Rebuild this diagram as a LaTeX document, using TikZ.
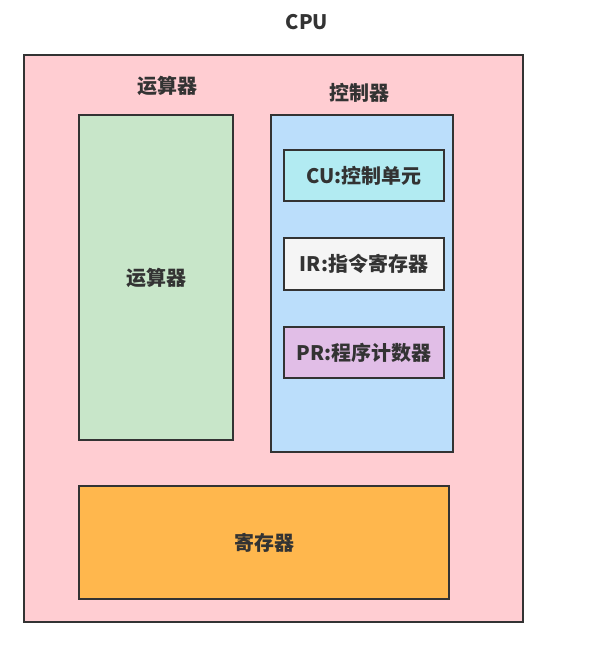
\documentclass[tikz,border=0pt]{standalone}
\usepackage{fontspec}
\setmainfont{Noto Sans CJK SC}
\usepackage{tikz}
\usetikzlibrary{positioning}
\definecolor{ink}{HTML}{333333}
\definecolor{cpupink}{HTML}{FFCDD2}
\definecolor{alugreen}{HTML}{C8E6C9}
\definecolor{ctrlblue}{HTML}{BBDEFB}
\definecolor{cucyan}{HTML}{B2EBF2}
\definecolor{irgrey}{HTML}{F5F5F5}
\definecolor{prpurple}{HTML}{E1BEE7}
\definecolor{regorange}{HTML}{FFB74D}
\tikzset{
  box/.style={draw=ink, line width=2pt, rectangle, inner sep=0pt,
    font=\fontsize{20}{22}\selectfont\bfseries, text=ink},
  lbl/.style={font=\fontsize{20}{22}\selectfont\bfseries, text=ink, inner sep=0pt}
}
\begin{document}
\begin{tikzpicture}[x=1pt,y=-1pt]
\useasboundingbox (0,0) rectangle (593,653);
%\draw[step=50,color=gray] (0,0) grid (593,653);
\node[lbl] (cpulbl) at (307,22) {CPU};
\node[box, fill=cpupink, minimum width=499pt, minimum height=567pt] (cpu) at (273.5,338.5) {};
\node[lbl] (alulbl) at (167,86) {运算器};
\node[lbl] (ctrllbl) at (359,92.5) {控制器};
\node[box, fill=alugreen, minimum width=154pt, minimum height=325pt] (alu) at (156,277.5) {运算器};
\node[box, fill=ctrlblue, minimum width=182pt, minimum height=337pt] (ctrl) at (362,283.5) {};
\node[box, fill=cucyan, minimum width=160pt, minimum height=51pt] (cu) at (364,175.5) {CU:控制单元};
\node[box, fill=irgrey, minimum width=160pt, minimum height=52pt] (ir) at (364,264) {IR:指令寄存器};
\node[box, fill=prpurple, minimum width=160pt, minimum height=51pt] (pr) at (364,352.5) {PR:程序计数器};
\node[box, fill=regorange, minimum width=370pt, minimum height=113pt] (reg) at (264,542.5) {寄存器};
\end{tikzpicture}
\end{document}
